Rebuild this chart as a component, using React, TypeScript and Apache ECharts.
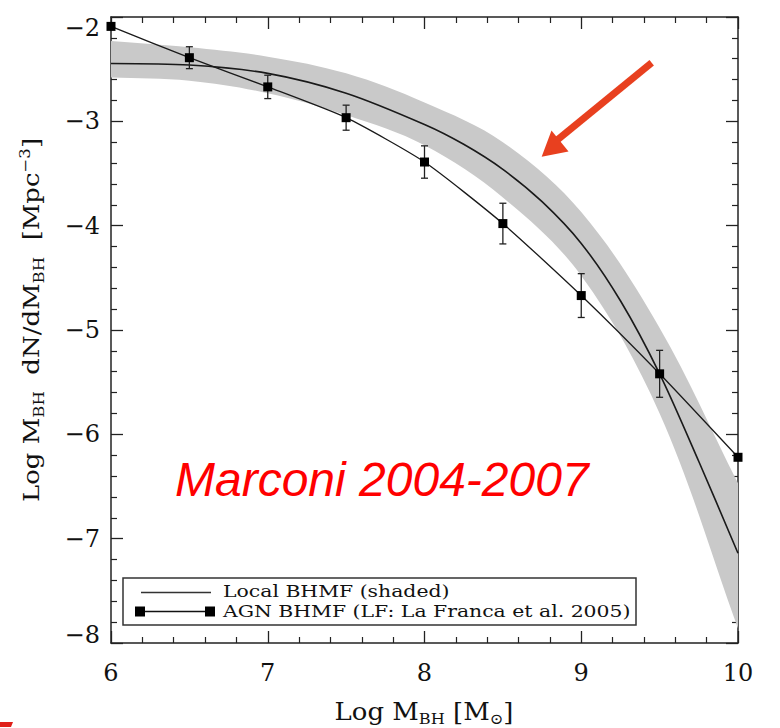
import React, { useEffect, useRef } from 'react';
import * as echarts from 'echarts';

// Local BHMF shaded band (edges)
const bandX = [6, 6.5, 7, 7.5, 8, 8.5, 9, 9.5, 10];
const bandUpper = [-2.23, -2.29, -2.38, -2.54, -2.82, -3.2, -3.87, -4.98, -6.47];
const bandLower = [-2.58, -2.61, -2.73, -2.94, -3.23, -3.73, -4.48, -5.8, -7.86];

// Local BHMF central curve
const localX = [6, 6.5, 7, 7.5, 8, 8.25, 8.5, 8.75, 9, 9.25, 9.5, 9.75, 10];
const localY = [-2.445, -2.46, -2.54, -2.73, -3.03, -3.22, -3.46, -3.77, -4.17, -4.72, -5.42, -6.26, -7.14];

// AGN BHMF points with error bars
const agnX = [6, 6.5, 7, 7.5, 8, 8.5, 9, 9.5, 10];
const agnY = [-2.09, -2.39, -2.67, -2.965, -3.39, -3.98, -4.67, -5.42, -6.22];
const agnErr = [0, 0.105, 0.112, 0.12, 0.155, 0.195, 0.21, 0.225, 0];

const legendLabels = ['Local BHMF (shaded)', 'AGN BHMF (LF: La Franca et al. 2005)'];
const annotation = 'Marconi 2004-2007';

const SERIF = 'DejaVu Serif';
const INK = '#1a1a1a';

export default function App() {
  const ref = useRef<HTMLDivElement>(null);

  useEffect(() => {
    const chart = echarts.init(ref.current!, null, { renderer: 'svg' });

    const axisLine = { show: true, lineStyle: { color: '#222', width: 1.5 } };
    const axisTick = { show: true, inside: true, length: 12, lineStyle: { color: '#222', width: 1.3 } };
    const minorTick = { show: true, splitNumber: 5, length: 6, lineStyle: { color: '#222', width: 1.2 } };

    const xBase = {
      type: 'value',
      min: 6,
      max: 10,
      interval: 1,
      axisLine,
      axisTick,
      minorTick,
      splitLine: { show: false },
      minorSplitLine: { show: false },
    };
    const yBase = {
      type: 'value',
      min: -8,
      max: -2,
      interval: 1,
      axisLine,
      axisTick,
      minorTick,
      splitLine: { show: false },
      minorSplitLine: { show: false },
    };

    const lblStyle = { fontFamily: SERIF, fontSize: 24, color: '#111' };

    chart.setOption({
      animation: false,
      backgroundColor: '#fff',
      grid: { left: 111, right: 42, top: 17, bottom: 85 },
      xAxis: [
        {
          ...xBase,
          position: 'bottom',
          axisLabel: { show: true, margin: 18, ...lblStyle, formatter: (v: number) => String(v) },
        },
        { ...xBase, position: 'top', axisLabel: { show: false } },
      ],
      yAxis: [
        {
          ...yBase,
          position: 'left',
          axisLabel: {
            show: true,
            margin: 11,
            ...lblStyle,
            formatter: (v: number) => {
              const s = (v < 0 ? '\u2212' : '') + Math.abs(v);
              if (v === -2) return '{t|' + s + '}';
              if (v === -8) return '{b|' + s + '}';
              return '{n|' + s + '}';
            },
            rich: {
              n: { ...lblStyle },
              t: { ...lblStyle, padding: [22, 0, 0, 0] },
              b: { ...lblStyle, padding: [0, 0, 16, 0] },
            },
          },
        },
        { ...yBase, position: 'right', axisLabel: { show: false } },
      ],
      series: [
        {
          type: 'custom',
          name: 'band',
          data: [[bandX[0], bandUpper[0]]],
          encode: { x: 0, y: 1 },
          silent: true,
          z: 1,
          renderItem: (params: any, api: any) => {
            const up = bandX.map((x, i) => api.coord([x, bandUpper[i]]));
            const lo = bandX.map((x, i) => api.coord([x, bandLower[i]])).reverse();
            const n = up.length;
            const pts = [
              up[0],
              [up[0][0], up[0][1]],
              ...up.slice(1, n - 1),
              up[n - 1],
              [up[n - 1][0], up[n - 1][1]],
              lo[0],
              [lo[0][0], lo[0][1]],
              ...lo.slice(1, n - 1),
              lo[n - 1],
              [lo[n - 1][0], lo[n - 1][1]],
            ];
            return {
              type: 'polygon',
              shape: { points: pts, smooth: 0.35 },
              style: { fill: '#c9c9c9', stroke: 'none' },
            };
          },
        },
        {
          type: 'line',
          name: legendLabels[0],
          data: localX.map((x, i) => [x, localY[i]]),
          smooth: 0.3,
          symbol: 'none',
          lineStyle: { color: INK, width: 1.6 },
          z: 3,
        },
        {
          type: 'line',
          name: legendLabels[1],
          data: agnX.map((x, i) => [x, agnY[i]]),
          smooth: 0.2,
          symbol: 'rect',
          symbolSize: 9,
          itemStyle: { color: '#000' },
          lineStyle: { color: INK, width: 1.3 },
          z: 4,
        },
        {
          type: 'custom',
          name: 'errors',
          data: agnX.map((x, i) => [x, agnY[i], agnErr[i]]).filter((d) => d[2] > 0),
          encode: { x: 0, y: 1 },
          z: 4,
          renderItem: (params: any, api: any) => {
            const x = api.value(0);
            const y = api.value(1);
            const e = api.value(2);
            const top = api.coord([x, y + e]);
            const bot = api.coord([x, y - e]);
            const st = { stroke: '#222', lineWidth: 1.3 };
            return {
              type: 'group',
              children: [
                { type: 'line', shape: { x1: top[0], y1: top[1], x2: bot[0], y2: bot[1] }, style: st },
                { type: 'line', shape: { x1: top[0] - 3.5, y1: top[1], x2: top[0] + 3.5, y2: top[1] }, style: st },
                { type: 'line', shape: { x1: bot[0] - 3.5, y1: bot[1], x2: bot[0] + 3.5, y2: bot[1] }, style: st },
              ],
            };
          },
        },
      ],
      graphic: [
        // x axis title
        {
          type: 'text',
          x: 424,
          y: 712,
          scaleX: 1.08,
          style: {
            text: 'Log M{s|BH} [M{s|\u2299}]',
            fontFamily: SERIF,
            fontSize: 24,
            lineHeight: 30,
            fill: '#111',
            align: 'center',
            verticalAlign: 'middle',
            rich: {
              s: { fontFamily: SERIF, fontSize: 15, lineHeight: 12, verticalAlign: 'bottom', fill: '#111' },
            },
          },
        },
        // y axis title
        {
          type: 'text',
          x: 32,
          y: 320,
          rotation: Math.PI / 2,
          scaleX: 1.18,
          style: {
            text: 'Log M{s|BH}  dN/dM{s|BH}  [Mpc{p|\u22123}]',
            fontFamily: SERIF,
            fontSize: 22,
            lineHeight: 28,
            fill: '#111',
            align: 'center',
            verticalAlign: 'middle',
            rich: {
              s: { fontFamily: SERIF, fontSize: 14, lineHeight: 11, verticalAlign: 'bottom', fill: '#111' },
              p: { fontFamily: SERIF, fontSize: 14, lineHeight: 11, verticalAlign: 'top', fill: '#111' },
            },
          },
        },
        // legend box
        {
          type: 'rect',
          shape: { x: 123, y: 578, width: 513, height: 47 },
          style: { fill: '#fff', stroke: '#333', lineWidth: 1.5 },
          z: 10,
        },
        {
          type: 'line',
          shape: { x1: 141, y1: 592.5, x2: 211, y2: 592.5 },
          style: { stroke: '#333', lineWidth: 1.5 },
          z: 11,
        },
        {
          type: 'text',
          x: 223,
          y: 591,
          scaleX: 1.2,
          style: {
            text: legendLabels[0],
            fontFamily: SERIF,
            fontSize: 17,
            fill: '#111',
            align: 'left',
            verticalAlign: 'middle',
          },
          z: 11,
        },
        {
          type: 'line',
          shape: { x1: 140, y1: 611.5, x2: 210, y2: 611.5 },
          style: { stroke: '#111', lineWidth: 1.5 },
          z: 11,
        },
        { type: 'rect', shape: { x: 135, y: 606.5, width: 10, height: 10 }, style: { fill: '#000' }, z: 11 },
        { type: 'rect', shape: { x: 205, y: 606.5, width: 10, height: 10 }, style: { fill: '#000' }, z: 11 },
        {
          type: 'text',
          x: 223,
          y: 611,
          scaleX: 1.2,
          style: {
            text: legendLabels[1],
            fontFamily: SERIF,
            fontSize: 17,
            fill: '#111',
            align: 'left',
            verticalAlign: 'middle',
          },
          z: 11,
        },
        // red annotation
        {
          type: 'text',
          x: 175,
          y: 479,
          style: {
            text: annotation,
            fontFamily: 'Liberation Sans',
            fontStyle: 'italic',
            fontSize: 48,
            fill: '#ff0000',
            align: 'left',
            verticalAlign: 'middle',
          },
          z: 12,
        },
        // red arrow
        {
          type: 'line',
          shape: { x1: 651.7, y1: 62.7, x2: 556, y2: 141 },
          style: { stroke: '#e8401f', lineWidth: 7 },
          z: 12,
        },
        {
          type: 'polygon',
          shape: { points: [[541.7, 156.7], [551.5, 130.5], [568.5, 151.5]] },
          style: { fill: '#e8401f' },
          z: 12,
        },
        // red fragment bottom-left
        {
          type: 'polygon',
          shape: { points: [[0, 722], [13, 722], [11, 727], [0, 727]] },
          style: { fill: '#e0201a' },
          z: 12,
        },
      ],
    });

    return () => chart.dispose();
  }, []);

  return (
    <div
      ref={ref}
      style={{ position: 'fixed', left: 0, top: 0, width: 780, height: 728, background: '#fff' }}
    />
  );
}
